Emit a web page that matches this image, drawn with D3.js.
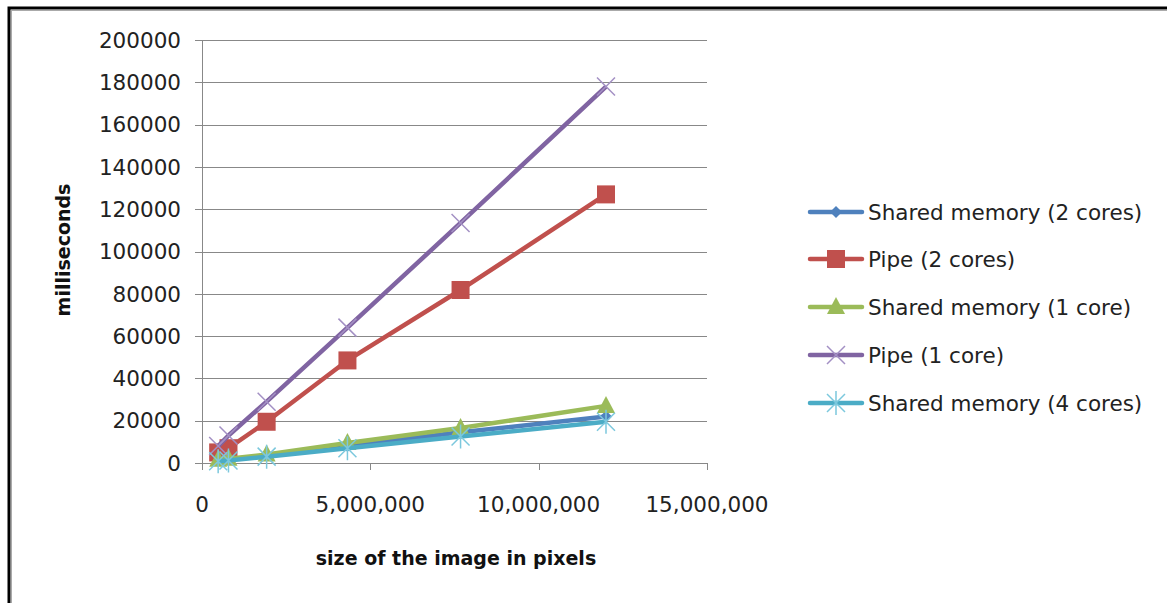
<!DOCTYPE html>
<html><head><meta charset="utf-8">
<script src="https://cdn.jsdelivr.net/npm/d3@7/dist/d3.min.js"></script>
<style>body{margin:0;background:#fff;}svg{display:block;font-family:"DejaVu Sans",sans-serif;}</style>
</head><body>
<svg id="c" width="1167" height="603"></svg>
<script>
const pixels = [480000, 786432, 1920000, 4320000, 7680000, 12000000];
const sharedMem2 = [1000, 1500, 3500, 8000, 14500, 22000];
const pipe2 = [5000, 7000, 19500, 48500, 81800, 127000];
const sharedMem1 = [1500, 2000, 4000, 9500, 16500, 27000];
const pipe1 = [8000, 13000, 29000, 64000, 113500, 178000];
const sharedMem4 = [800, 1200, 3000, 7000, 12500, 19500];
const seriesNames = ["Shared memory (2 cores)", "Pipe (2 cores)", "Shared memory (1 core)", "Pipe (1 core)", "Shared memory (4 cores)"];
const yTicks = [0,20000,40000,60000,80000,100000,120000,140000,160000,180000,200000];
const xTicks = [0,5000000,10000000,15000000];

const series = [
  {name: seriesNames[0], values: sharedMem2, color: "#4F81BD", marker: "diamond"},
  {name: seriesNames[1], values: pipe2, color: "#C0504D", marker: "square"},
  {name: seriesNames[2], values: sharedMem1, color: "#9BBB59", marker: "triangle"},
  {name: seriesNames[3], values: pipe1, color: "#8064A2", marker: "x"},
  {name: seriesNames[4], values: sharedMem4, color: "#4BACC6", marker: "star"}
];

const svg = d3.select("#c");
// frame
svg.append("rect").attr("x",9).attr("y",8).attr("width",1170).attr("height",620).attr("fill","none").attr("stroke","#000").attr("stroke-width",3);
svg.append("rect").attr("x",11.5).attr("y",10.5).attr("width",1165).attr("height",620).attr("fill","none").attr("stroke","#aaa").attr("stroke-width",1);

const x = d3.scaleLinear().domain([0,15000000]).range([202,707]);
const y = d3.scaleLinear().domain([0,200000]).range([463,40]);
const grid = "#888";

// horizontal gridlines
svg.append("g").selectAll("line").data(yTicks).join("line")
  .attr("x1",195).attr("x2",707).attr("y1",d=>Math.round(y(d))+0.5).attr("y2",d=>Math.round(y(d))+0.5)
  .attr("stroke",grid).attr("stroke-width",1);
// y axis line
svg.append("line").attr("x1",202.5).attr("x2",202.5).attr("y1",y(200000)).attr("y2",470).attr("stroke",grid);
// x tick marks
svg.append("g").selectAll("line").data(xTicks).join("line")
  .attr("x1",d=>Math.round(x(d))+0.5).attr("x2",d=>Math.round(x(d))+0.5).attr("y1",463).attr("y2",470)
  .attr("stroke",grid);

// y tick labels
svg.append("g").selectAll("text").data(yTicks).join("text")
  .attr("x",181).attr("y",d=>y(d)).attr("dy","0.36em").attr("text-anchor","end")
  .attr("font-size",21.5).attr("fill","#222").text(d=>d);
// x tick labels
const fmt = d3.format(",");
svg.append("g").selectAll("text").data(xTicks).join("text")
  .attr("x",d=>x(d)).attr("y",512).attr("text-anchor","middle")
  .attr("font-size",21.5).attr("fill","#222").text(d=>fmt(d));

// axis titles
svg.append("text").attr("transform","translate(70,250) rotate(-90)").attr("text-anchor","middle")
  .attr("font-size",19).attr("font-weight","bold").attr("fill","#111").text("milliseconds");
svg.append("text").attr("x",456).attr("y",565).attr("text-anchor","middle")
  .attr("font-size",19).attr("font-weight","bold").attr("fill","#111").text("size of the image in pixels");

function drawMarker(g, type, color){
  if(type==="diamond"){
    g.append("path").attr("d","M0,-6L6,0L0,6L-6,0Z").attr("fill",color);
  } else if(type==="square"){
    g.append("rect").attr("x",-9).attr("y",-9).attr("width",18).attr("height",18).attr("fill",color);
  } else if(type==="triangle"){
    g.append("path").attr("d","M0,-10L9,7L-9,7Z").attr("fill",color);
  } else if(type==="x"){
    g.append("path").attr("d","M-9,-9L9,9M-9,9L9,-9").attr("stroke","#A390C4").attr("stroke-width",1.5).attr("fill","none");
  } else if(type==="star"){
    g.append("path").attr("d","M-9,-9L9,9M-9,9L9,-9M0,-12L0,12").attr("stroke","#7CC8DD").attr("stroke-width",1.5).attr("fill","none");
  }
}

const line = d3.line().x(d=>x(d[0])).y(d=>y(d[1]));
series.forEach(s=>{
  const pts = pixels.map((p,i)=>[p,s.values[i]]);
  svg.append("path").datum(pts).attr("d",line).attr("fill","none")
    .attr("stroke",s.color).attr("stroke-width",4.5).attr("stroke-linejoin","round");
  pts.forEach(p=>{
    const g = svg.append("g").attr("transform",`translate(${x(p[0])},${y(p[1])})`);
    drawMarker(g, s.marker, s.color);
  });
});

// legend
const legY = [212,259,307,355,403];
series.forEach((s,i)=>{
  const ly = legY[i];
  svg.append("line").attr("x1",810).attr("x2",862).attr("y1",ly).attr("y2",ly)
    .attr("stroke",s.color).attr("stroke-width",4.5).attr("stroke-linecap","round");
  const g = svg.append("g").attr("transform",`translate(836,${ly})`);
  drawMarker(g, s.marker, s.color);
  svg.append("text").attr("x",868).attr("y",ly).attr("dy","0.36em").attr("font-size",21.5)
    .attr("fill","#222").text(s.name);
});
</script>
</body></html>
